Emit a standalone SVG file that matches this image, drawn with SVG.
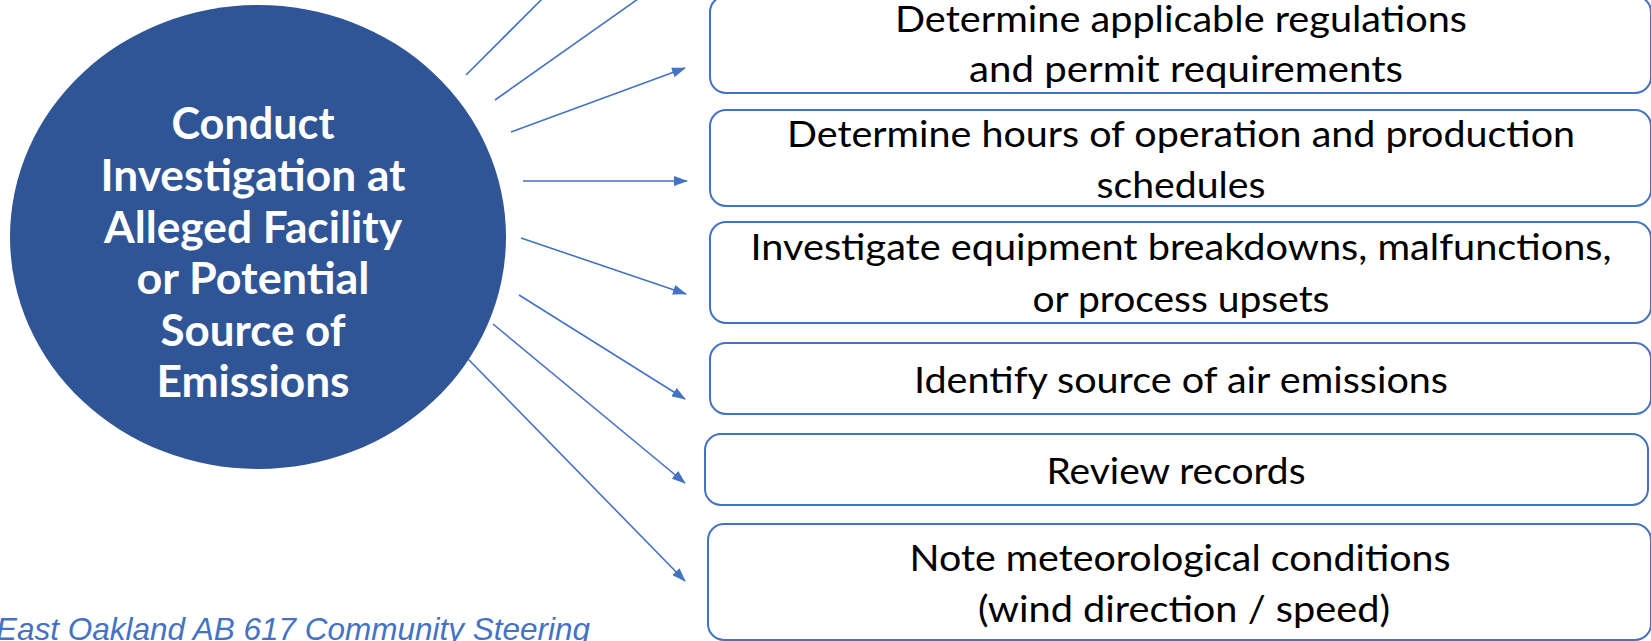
<svg xmlns="http://www.w3.org/2000/svg" width="1651" height="641" viewBox="0 0 1651 641">
<style>
.box{fill:#ffffff;stroke:#4472C4;stroke-width:2}
.bt{font-family:Lato,"Liberation Sans",sans-serif;font-size:36px;fill:#000000;text-anchor:middle}
.ct{font-family:Lato,"Liberation Sans",sans-serif;font-size:43px;font-weight:bold;fill:#ffffff;text-anchor:middle}
.conn{stroke:#4472C4;stroke-width:1.6;fill:none}
.foot{font-family:"Liberation Sans",Arial,sans-serif;font-size:31.5px;font-style:italic;fill:#4472C4}
</style>
<defs>
<marker id="ah" markerUnits="userSpaceOnUse" markerWidth="14" markerHeight="10" refX="13" refY="5" orient="auto">
<path d="M0,0 L14,5 L0,10 Z" fill="#4472C4"/>
</marker>
</defs>
<rect width="1651" height="641" fill="#ffffff"/>
<g id="center-node">
<ellipse cx="258" cy="237" rx="248" ry="232" fill="#2F5597"/>
<text class="ct" x="253" y="139" textLength="163" lengthAdjust="spacingAndGlyphs">Conduct</text>
<text class="ct" x="253" y="191" textLength="305" lengthAdjust="spacingAndGlyphs">Investigation at</text>
<text class="ct" x="253" y="243" textLength="298" lengthAdjust="spacingAndGlyphs">Alleged Facility</text>
<text class="ct" x="253" y="294" textLength="233" lengthAdjust="spacingAndGlyphs">or Potential</text>
<text class="ct" x="253" y="346" textLength="185" lengthAdjust="spacingAndGlyphs">Source of</text>
<text class="ct" x="253" y="397" textLength="193" lengthAdjust="spacingAndGlyphs">Emissions</text>
</g>
<g id="connectors">
<line class="conn" x1="466" y1="75" x2="542" y2="-1"/>
<line class="conn" x1="495" y1="100" x2="638" y2="-1"/>
<line class="conn" x1="511" y1="132" x2="685" y2="68" marker-end="url(#ah)"/>
<line class="conn" x1="523" y1="181" x2="687" y2="181" marker-end="url(#ah)"/>
<line class="conn" x1="521" y1="238" x2="686" y2="294" marker-end="url(#ah)"/>
<line class="conn" x1="519" y1="295" x2="685" y2="399" marker-end="url(#ah)"/>
<line class="conn" x1="493" y1="324" x2="685" y2="483" marker-end="url(#ah)"/>
<line class="conn" x1="468" y1="359" x2="685" y2="581" marker-end="url(#ah)"/>
</g>
<g id="box1">
<rect class="box" x="710" y="-4" width="941" height="97" rx="16"/>
<text class="bt" x="1181" y="32" textLength="572" lengthAdjust="spacingAndGlyphs">Determine applicable regulations</text>
<text class="bt" x="1186" y="82" textLength="434" lengthAdjust="spacingAndGlyphs">and permit requirements</text>
</g>
<g id="box2">
<rect class="box" x="710" y="110" width="941" height="96" rx="16"/>
<text class="bt" x="1181" y="147" textLength="788" lengthAdjust="spacingAndGlyphs">Determine hours of operation and production</text>
<text class="bt" x="1181" y="198" textLength="169" lengthAdjust="spacingAndGlyphs">schedules</text>
</g>
<g id="box3">
<rect class="box" x="710" y="222" width="941" height="101" rx="16"/>
<text class="bt" x="1181" y="260" textLength="861" lengthAdjust="spacingAndGlyphs">Investigate equipment breakdowns, malfunctions,</text>
<text class="bt" x="1181" y="312" textLength="297" lengthAdjust="spacingAndGlyphs">or process upsets</text>
</g>
<g id="box4">
<rect class="box" x="710" y="343" width="941" height="71" rx="16"/>
<text class="bt" x="1181" y="393" textLength="534" lengthAdjust="spacingAndGlyphs">Identify source of air emissions</text>
</g>
<g id="box5">
<rect class="box" x="705" y="434" width="943" height="71" rx="16"/>
<text class="bt" x="1176" y="484" textLength="259" lengthAdjust="spacingAndGlyphs">Review records</text>
</g>
<g id="box6">
<rect class="box" x="708" y="524" width="943" height="116" rx="16"/>
<text class="bt" x="1180" y="571" textLength="541" lengthAdjust="spacingAndGlyphs">Note meteorological conditions</text>
<text class="bt" x="1184" y="622" textLength="412" lengthAdjust="spacingAndGlyphs">(wind direction / speed)</text>
</g>
<g id="footer">
<text class="foot" x="-4" y="640">East Oakland AB 617 Community Steering</text>
</g>
</svg>
